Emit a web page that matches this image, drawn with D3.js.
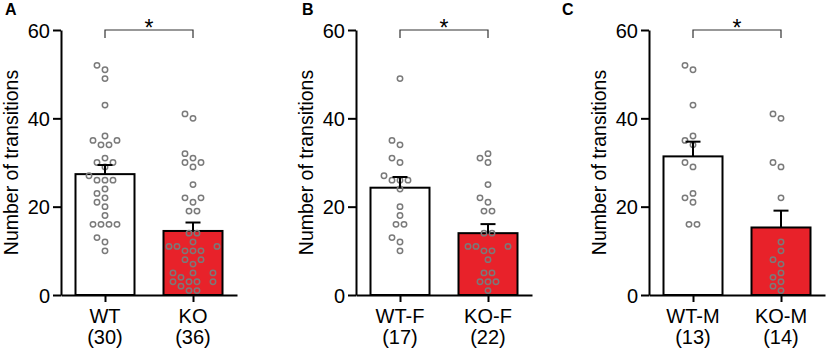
<!DOCTYPE html>
<html>
<head>
<meta charset="utf-8">
<script src="https://cdn.jsdelivr.net/npm/d3@7"></script>
<style>
    body { margin: 0; background: #fff; }
    svg text { font-family: "Liberation Sans", Arial, Helvetica, sans-serif; fill: #000; }
    .axis path, .axis line { stroke: #000; stroke-width: 2px; }
    .axis text { font-size: 20px; }
    .group-label { font-size: 20px; }
    .y-label { font-size: 19.5px; }
    .panel-letter { font-size: 16px; font-weight: bold; }
    .bar { stroke: #000; stroke-width: 2px; }
    .dot { fill: none; stroke: #7a7a7a; stroke-width: 1.5px; }
    .errbar { stroke: #000; stroke-width: 2px; fill: none; }
    .bracket { stroke: #333; stroke-width: 1.2px; fill: none; }
    .sig { font-size: 23px; }
</style>
</head>
<body>
<div id="chart"></div>
<script>

// transitions per animal
const wtAll = [52, 51, 49, 43, 36, 35, 35, 34, 34, 31, 30, 30, 29, 27, 26, 26, 26, 24, 23, 22, 21, 20, 18, 16, 16, 16, 16, 13, 12, 10];
const koAll = [41, 40, 32, 31, 30, 30, 29, 25, 22, 22, 21, 19, 19, 14, 14, 12, 11, 11, 11, 10, 10, 10, 8, 8, 7, 5, 5, 5, 4, 3, 3, 3, 3, 2, 1, 1];
const wtFemale = [49, 35, 34, 31, 30, 27, 26, 26, 26, 24, 20, 18, 16, 16, 13, 12, 10];
const koFemale = [32, 31, 30, 25, 22, 21, 19, 19, 14, 14, 11, 11, 11, 10, 10, 8, 5, 5, 3, 3, 3, 1];
const wtMale = [52, 51, 43, 36, 35, 34, 30, 29, 23, 22, 21, 16, 16];
const koMale = [41, 40, 30, 29, 22, 12, 10, 8, 7, 5, 4, 3, 2, 1];

const panelLetters = ["A", "B", "C"];
const groupNames = [["WT", "KO"], ["WT-F", "KO-F"], ["WT-M", "KO-M"]];
const groupValues = [[wtAll, koAll], [wtFemale, koFemale], [wtMale, koMale]];
const groupColors = ["#ffffff", "#e8222a"];
const yTicks = [0, 20, 40, 60];
const sigMarks = ["*", "*", "*"];

// layout
const panelLeft = [0, 295, 588];
const letterX = [5, 302, 562];


class DotBarChart {

    constructor(svg, i) {
        this.svg = svg;
        this.left = panelLeft[i];
        this.letterX = letterX[i];
        this.letter = panelLetters[i];
        this.names = groupNames[i];
        this.values = groupValues[i];
        this.mark = sigMarks[i];

        this.initVis();
    }

    initVis() {
        let vis = this;

        vis.margin = {top: 30, left: 61};
        vis.width = 176;
        vis.height = 265;

        vis.g = vis.svg.append("g")
            .attr("transform", "translate(" + (vis.left + vis.margin.left) + "," + vis.margin.top + ")");

        vis.x = d3.scalePoint()
            .domain(vis.names)
            .range([0, vis.width])
            .padding(0.5);

        vis.y = d3.scaleLinear()
            .domain([0, 60])
            .range([vis.height, 0]);

        vis.yAxis = d3.axisLeft(vis.y)
            .tickValues(yTicks)
            .tickSize(8)
            .tickSizeOuter(0)
            .tickPadding(3);

        vis.xAxis = d3.axisBottom(vis.x)
            .tickSize(7)
            .tickSizeOuter(0)
            .tickFormat("");

        vis.svg.append("text")
            .attr("class", "panel-letter")
            .attr("x", vis.letterX)
            .attr("y", 15)
            .text(vis.letter);

        vis.g.append("text")
            .attr("class", "y-label")
            .attr("transform", "rotate(-90)")
            .attr("x", -vis.height / 2)
            .attr("y", -43.5)
            .attr("text-anchor", "middle")
            .text("Number of transitions");

        vis.barWidth = 59;
        vis.step = 4;
        vis.minDist = 7.6;

        vis.wrangleData();
    }

    // simple swarm: equal values are spread symmetrically, nearby ones pushed aside
    swarm(values) {
        let vis = this;
        let placed = [];
        let groups = d3.groups(values.slice().sort(d3.ascending), d => d);

        groups.forEach(([v, arr]) => {
            let py = vis.y(v);
            let free = dx => placed.every(p => Math.hypot(p.dx - dx, p.py - py) >= vis.minDist);
            let left = arr.length;

            if (left % 2 === 1) {
                let k = 0, dx = 0;
                while (true) {
                    dx = k === 0 ? 0 : (k % 2 === 1 ? -1 : 1) * Math.ceil(k / 2) * vis.step;
                    if (free(dx)) break;
                    k++;
                }
                placed.push({value: v, dx: dx, py: py});
                left--;
            }
            let o = vis.step;
            while (left > 0) {
                if (free(o) && free(-o)) {
                    placed.push({value: v, dx: -o, py: py});
                    placed.push({value: v, dx: o, py: py});
                    left -= 2;
                }
                o += vis.step;
            }
        });
        return placed;
    }

    wrangleData() {
        let vis = this;

        vis.displayData = vis.names.map((name, j) => {
            let vals = vis.values[j];
            let mean = d3.mean(vals);
            let sem = d3.deviation(vals) / Math.sqrt(vals.length);
            return {
                name: name,
                n: vals.length,
                mean: mean,
                sem: sem,
                color: groupColors[j],
                dots: vis.swarm(vals)
            };
        });

        vis.updateVis();
    }

    updateVis() {
        let vis = this;

        // bars
        vis.g.selectAll("rect.bar")
            .data(vis.displayData)
            .enter()
            .append("rect")
            .attr("class", "bar")
            .attr("x", d => vis.x(d.name) - vis.barWidth / 2)
            .attr("y", d => vis.y(d.mean))
            .attr("width", vis.barWidth)
            .attr("height", d => vis.height - vis.y(d.mean))
            .attr("fill", d => d.color);

        // individual animals
        vis.displayData.forEach(d => {
            vis.g.selectAll(null)
                .data(d.dots)
                .enter()
                .append("circle")
                .attr("class", "dot")
                .attr("cx", p => vis.x(d.name) + p.dx)
                .attr("cy", p => vis.y(p.value))
                .attr("r", 2.7);
        });

        // upper SEM
        let err = vis.g.selectAll("g.err")
            .data(vis.displayData)
            .enter()
            .append("g")
            .attr("class", "err");

        err.append("line")
            .attr("class", "errbar")
            .attr("x1", d => vis.x(d.name))
            .attr("x2", d => vis.x(d.name))
            .attr("y1", d => vis.y(d.mean))
            .attr("y2", d => vis.y(d.mean + d.sem));

        err.append("line")
            .attr("class", "errbar")
            .attr("x1", d => vis.x(d.name) - 7.5)
            .attr("x2", d => vis.x(d.name) + 7.5)
            .attr("y1", d => vis.y(d.mean + d.sem))
            .attr("y2", d => vis.y(d.mean + d.sem));

        // axes
        vis.g.append("g")
            .attr("class", "y-axis axis")
            .call(vis.yAxis)
            .call(g => g.selectAll("text").attr("dy", "0.36em"));

        vis.g.append("g")
            .attr("class", "x-axis axis")
            .attr("transform", "translate(0," + vis.height + ")")
            .call(vis.xAxis);

        let lab = vis.g.selectAll("text.group-label")
            .data(vis.displayData)
            .enter();

        lab.append("text")
            .attr("class", "group-label")
            .attr("x", d => vis.x(d.name))
            .attr("y", vis.height + 27.5)
            .attr("text-anchor", "middle")
            .text(d => d.name);

        lab.append("text")
            .attr("class", "group-label")
            .attr("x", d => vis.x(d.name))
            .attr("y", vis.height + 49)
            .attr("text-anchor", "middle")
            .text(d => "(" + d.n + ")");

        // significance bracket
        let x1 = vis.x(vis.names[0]), x2 = vis.x(vis.names[1]);
        let yb = vis.y(60);
        vis.g.append("path")
            .attr("class", "bracket")
            .attr("d", "M" + x1 + "," + (yb + 8) + "V" + yb + "H" + x2 + "V" + (yb + 8));

        vis.g.append("text")
            .attr("class", "sig")
            .attr("x", (x1 + x2) / 2)
            .attr("y", yb + 6)
            .attr("text-anchor", "middle")
            .text(vis.mark);
    }

}

let svg = d3.select("#chart").append("svg")
    .attr("width", 829)
    .attr("height", 352);

let charts = panelLetters.map((l, i) => new DotBarChart(svg, i));

</script>
</body>
</html>
